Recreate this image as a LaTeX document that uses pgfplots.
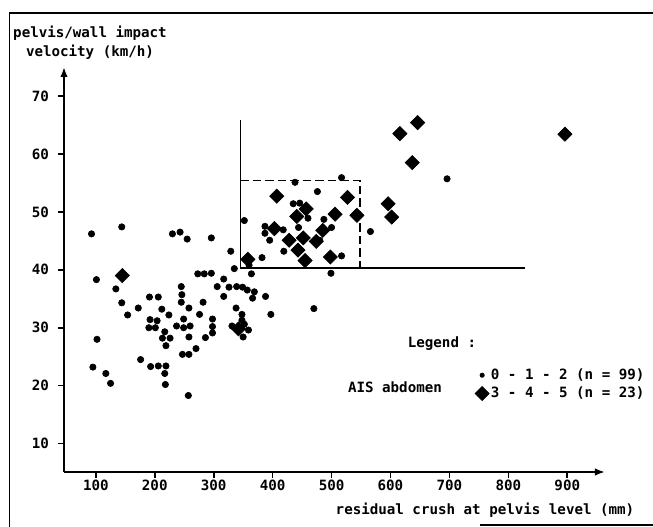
\documentclass[border=0pt]{standalone}
\usepackage{pgfplots}
\pgfplotsset{compat=1.18}
\usepackage{pgfplotstable}
\usepackage{fontspec}
\setmainfont{DejaVu Sans Mono}
\usetikzlibrary{arrows.meta}

\pgfplotstableread{
x y
92.7 46.2
144 47.4
230 46.2
243 46.5
255 45.3
296 45.5
329 43.2
335 40.2
101 38.3
134 36.7
144 34.3
154 32.2
172 33.4
191 35.3
206 35.3
245 37.1
246 35.7
245 34.4
258 33.4
212 33.2
224 32.2
192 31.4
204 31.2
190 30.0
201 30.0
237 30.3
249 31.5
249 30.0
260 30.3
217 29.3
213 28.2
226 28.2
219 26.9
258 28.4
270 26.4
247 25.4
258 25.4
102 28.0
176 24.5
193 23.3
206 23.4
219 23.4
95 23.2
117 22.1
125 20.4
217 22.1
218 20.2
257 18.3
273 39.3
284 39.3
296 39.4
317 38.4
306 37.1
326 37.0
339 37.1
349 37.0
357 36.5
369 36.2
366 35.1
317 35.4
388 35.4
282 34.4
338 33.4
397 32.3
276 32.3
298 31.5
298 30.2
298 29.1
286 28.3
331 30.3
348 32.3
348 31.3
359 29.6
350 28.4
352 30.6
364 39.3
360 40.8
470 33.3
499 39.4
352 48.5
387 47.5
387 46.3
395 45.1
419 43.2
382 42.1
444 47.3
438 55.1
476 53.5
435 51.4
446 51.5
460 48.9
418 46.9
480 45.1
487 48.7
500 47.3
517 42.4
517 55.9
566 46.6
696 55.7
}\lowdata

\pgfplotstableread{
x y
145 39.0
342 29.8
358 41.8
403 47.1
407 52.7
428 45.1
443 43.4
441 49.2
457 50.5
452 45.5
474 44.9
455 41.6
485 46.8
498 42.2
527 52.5
506 49.6
543 49.4
596 51.4
602 49.1
637 58.5
646 65.4
616 63.5
896 63.4
}\highdata

\begin{document}
\begin{tikzpicture}[font=\fontsize{8.5}{11.4}\selectfont\bfseries]
\path[use as bounding box] (-38.4pt,-33pt) rectangle (353.4pt,283.2pt);
\begin{axis}[
  at={(0,0)}, anchor=south west,
  scale only axis, width=324.6pt, height=243pt,
  xmin=46, xmax=964, ymin=5.1, ymax=75,
  axis lines=left,
  axis line style={line width=1.1pt, -{Latex[length=6pt,width=4.5pt]}},
  xtick={100,200,...,900}, ytick={10,20,...,70},
  tick align=outside, major tick length=3.5pt,
  tick style={line width=1pt, black},
  /pgf/number format/assume math mode=true,
  ticklabel style={font=\fontsize{8.5}{10}\selectfont\bfseries},
  xticklabel style={inner sep=1pt},
  yticklabel style={xshift=-2pt},
  clip=false,
  legend style={draw=none, fill=none, at={(axis cs:743,23.3)}, anchor=north west,
    row sep=1pt, inner sep=0pt,
    nodes={inner sep=1pt, text height=6.5pt, text depth=1.5pt},
    font=\fontsize{8.5}{10}\selectfont\bfseries},
  legend cell align=left,
]
\addplot[only marks, mark=*, mark size=1.9pt, black, legend image post style={mark size=1.3pt}] table[x=x,y=y] {\lowdata};
\addlegendentry{0 - 1 - 2 (n = 99)}
\addplot[only marks, mark=square*, mark options={rotate=45}, mark size=3pt, black] table[x=x,y=y] {\highdata};
\addlegendentry{3 - 4 - 5 (n = 23)}
\addplot[forget plot, line width=0.8pt, black] coordinates {(345,65.8) (345,40.3) (828,40.3)};
\addplot[forget plot, line width=0.8pt, black, dash pattern=on 5pt off 2.5pt] coordinates {(345,55.4) (548,55.4) (548,40.3)};
\end{axis}
\node[align=center] at (15.6pt,257.7pt) {pelvis/wall impact\\velocity (km/h)};
\node at (252.6pt,-22.8pt) {residual crush at pelvis level (mm)};
\node at (226.8pt,76.8pt) {Legend :};
\node at (198.6pt,51pt) {AIS abdomen};
\draw[line width=0.9pt] (-32.7pt,-33pt) -- (-32.7pt,275.4pt) -- (353.4pt,275.4pt);
\draw[line width=0.9pt] (249.6pt,-31.8pt) -- (353.4pt,-31.8pt);
\end{tikzpicture}
\end{document}
